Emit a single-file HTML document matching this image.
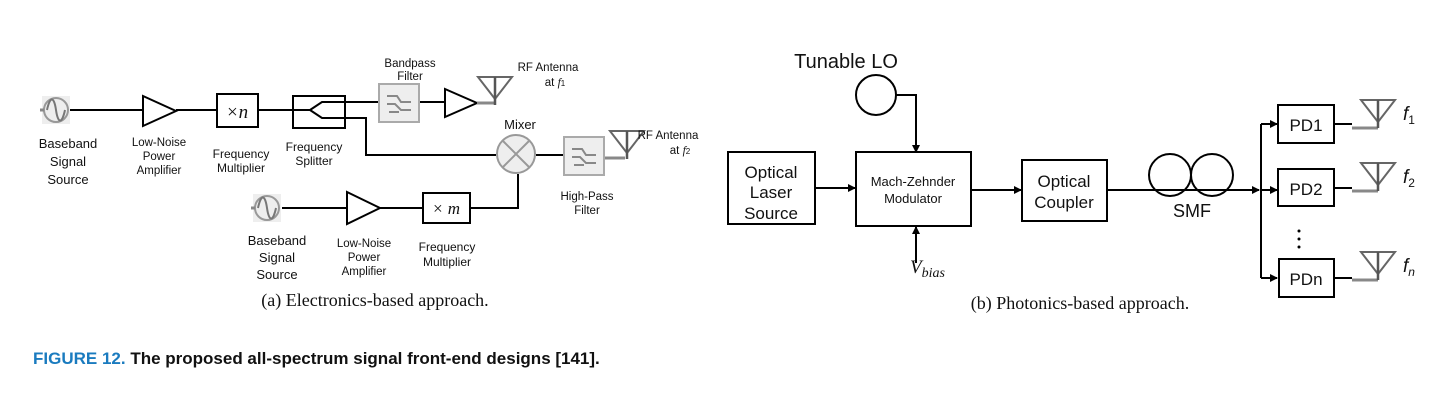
<!DOCTYPE html>
<html><head><meta charset="utf-8"><style>
body{margin:0;background:#fff;width:1456px;height:402px;overflow:hidden}
svg text{font-family:"Liberation Sans",sans-serif;fill:#111}
.s{font-family:"Liberation Serif",serif}
</style></head><body>
<svg width="1456" height="402" viewBox="0 0 1456 402" xmlns="http://www.w3.org/2000/svg">
<defs>
<marker id="a" markerWidth="8" markerHeight="8" refX="7" refY="4" orient="auto" markerUnits="userSpaceOnUse"><path d="M0,0 L8,4 L0,8 z" fill="#000"/></marker>
<g id="src"><rect x="-14" y="-14" width="28" height="28" fill="#eee"/><circle r="12" fill="none" stroke="#999" stroke-width="2"/><path d="M-9,0 C-6,-14 -2,-14 0,0 C2,14 6,14 9,0" fill="none" stroke="#777" stroke-width="2"/><line x1="-16" y1="0" x2="-12" y2="0" stroke="#888" stroke-width="3"/></g>
<g id="flt"><rect x="0" y="0" width="40" height="38" fill="#eee" stroke="#aaa" stroke-width="2"/><path d="M8,12 h10 l4,6 h10 M8,20 h8 l6,6 h10 M10,28 h10" stroke="#888" stroke-width="2" fill="none"/></g>
<g id="ant"><path d="M-17,0 L17,0 L0,22 Z" fill="none" stroke="#666" stroke-width="2"/><line x1="0" y1="0" x2="0" y2="28" stroke="#555" stroke-width="2.5"/></g>
</defs>
<g stroke="#000" stroke-width="2" fill="none">
<line x1="70" y1="110" x2="143" y2="110"/>
<path d="M143,96 L176,111 L143,126 Z"/>
<line x1="176" y1="110" x2="217" y2="110"/>
<rect x="217" y="94" width="41" height="33"/>
<line x1="258" y1="110" x2="310" y2="110"/>
<rect x="293" y="96" width="52" height="32"/>
<path d="M310,110 L322,102 L378,102"/>
<path d="M310,110 L322,118 L366,118 L366,155 L496,155"/>
<line x1="420" y1="102" x2="445" y2="102"/>
<path d="M445,89 L477,103 L445,117 Z"/>
<line x1="477" y1="103" x2="495" y2="103" stroke="#888" stroke-width="3"/>
<line x1="536" y1="155" x2="565" y2="155"/>
<line x1="605" y1="158" x2="625" y2="158" stroke="#888" stroke-width="3"/>
<line x1="282" y1="208" x2="347" y2="208"/>
<path d="M347,192 L380,208 L347,224 Z"/>
<line x1="380" y1="208" x2="423" y2="208"/>
<rect x="423" y="193" width="47" height="30"/>
<path d="M470,208 L518,208 L518,174"/>
</g>
<circle cx="516" cy="154" r="19" fill="#eee" stroke="#999" stroke-width="2"/>
<path d="M503,141 L529,167 M529,141 L503,167" stroke="#999" stroke-width="2"/>
<use href="#src" x="56" y="110"/>
<use href="#src" x="267" y="208"/>
<use href="#flt" x="379" y="84"/>
<use href="#flt" x="564" y="137"/>
<use href="#ant" x="495" y="77"/>
<use href="#ant" x="627" y="131"/>
<text x="237" y="118" font-size="19" text-anchor="middle" class="s" font-style="italic">×n</text>
<text x="446" y="214" font-size="17" text-anchor="middle" class="s" font-style="italic">× m</text>
<g font-size="13" text-anchor="middle">
<text x="68" y="148">Baseband</text><text x="68" y="166">Signal</text><text x="68" y="184">Source</text>
<text x="159" y="146" font-size="11.5">Low-Noise</text><text x="159" y="160" font-size="11.5">Power</text><text x="159" y="174" font-size="11.5">Amplifier</text>
<text x="241" y="158" font-size="12">Frequency</text><text x="241" y="172" font-size="12">Multiplier</text>
<text x="314" y="151" font-size="12">Frequency</text><text x="314" y="165" font-size="12">Splitter</text>
<text x="410" y="67" font-size="11.5">Bandpass</text><text x="410" y="80" font-size="11.5">Filter</text>
<text x="548" y="71" font-size="11.5">RF Antenna</text><text x="555" y="86" font-size="11.5">at <tspan class="s" font-style="italic">f</tspan><tspan font-size="8">1</tspan></text>
<text x="520" y="129" font-size="13">Mixer</text>
<text x="668" y="139" font-size="11.5">RF Antenna</text><text x="680" y="154" font-size="11.5">at <tspan class="s" font-style="italic">f</tspan><tspan font-size="8">2</tspan></text>
<text x="587" y="200" font-size="11.5">High-Pass</text><text x="587" y="214" font-size="11.5">Filter</text>
<text x="277" y="245">Baseband</text><text x="277" y="262">Signal</text><text x="277" y="279">Source</text>
<text x="364" y="247" font-size="11.5">Low-Noise</text><text x="364" y="261" font-size="11.5">Power</text><text x="364" y="275" font-size="11.5">Amplifier</text>
<text x="447" y="251" font-size="12">Frequency</text><text x="447" y="266" font-size="12">Multiplier</text>
</g>
<text x="375" y="306" font-size="18" class="s" text-anchor="middle">(a) Electronics-based approach.</text>

<g stroke="#000" stroke-width="2" fill="none">
<circle cx="876" cy="95" r="20"/>
<path d="M896,95 L916,95 L916,152" marker-end="url(#a)"/>
<rect x="728" y="152" width="87" height="72"/>
<rect x="856" y="152" width="115" height="74"/>
<line x1="815" y1="188" x2="855" y2="188" marker-end="url(#a)"/>
<line x1="916" y1="263" x2="916" y2="227" marker-end="url(#a)"/>
<rect x="1022" y="160" width="85" height="61"/>
<line x1="971" y1="190" x2="1021" y2="190" marker-end="url(#a)"/>
<circle cx="1170" cy="175" r="21"/><circle cx="1212" cy="175" r="21"/>
<line x1="1107" y1="190" x2="1259" y2="190" marker-end="url(#a)"/>
<line x1="1261" y1="124" x2="1261" y2="278"/>
<line x1="1261" y1="124" x2="1277" y2="124" marker-end="url(#a)"/>
<line x1="1261" y1="190" x2="1277" y2="190" marker-end="url(#a)"/>
<line x1="1261" y1="278" x2="1277" y2="278" marker-end="url(#a)"/>
<rect x="1278" y="105" width="56" height="38"/>
<rect x="1278" y="169" width="56" height="37"/>
<rect x="1279" y="259" width="55" height="38"/>
<line x1="1334" y1="124" x2="1352" y2="124"/>
<line x1="1334" y1="188" x2="1352" y2="188"/>
<line x1="1334" y1="278" x2="1352" y2="278"/>
<path d="M1352,128 L1378,128" stroke="#888" stroke-width="3"/>
<path d="M1352,191 L1378,191" stroke="#888" stroke-width="3"/>
<path d="M1352,280 L1378,280" stroke="#888" stroke-width="3"/>
</g>
<use href="#ant" x="1378" y="100"/>
<use href="#ant" x="1378" y="163"/>
<use href="#ant" x="1378" y="252"/>
<g fill="#000"><circle cx="1299" cy="231" r="1.5"/><circle cx="1299" cy="239" r="1.5"/><circle cx="1299" cy="247" r="1.5"/></g>
<g text-anchor="middle">
<text x="846" y="68" font-size="20">Tunable LO</text>
<text x="771" y="178" font-size="17">Optical</text><text x="771" y="198" font-size="17">Laser</text><text x="771" y="219" font-size="17">Source</text>
<text x="913" y="186" font-size="13">Mach-Zehnder</text><text x="913" y="203" font-size="13">Modulator</text>
<text x="1064" y="187" font-size="17">Optical</text><text x="1064" y="208" font-size="17">Coupler</text>
<text x="1192" y="217" font-size="18">SMF</text>
<text x="1306" y="131" font-size="17">PD1</text><text x="1306" y="195" font-size="17">PD2</text><text x="1306" y="285" font-size="17">PDn</text>
</g>
<text x="910" y="273" font-size="19" class="s" font-style="italic">V<tspan font-size="14" dy="4">bias</tspan></text>
<g class="s" font-style="italic" font-size="19">
<text x="1403" y="120">f<tspan font-size="12" font-style="normal" dy="4">1</tspan></text>
<text x="1403" y="183">f<tspan font-size="12" font-style="normal" dy="4">2</tspan></text>
<text x="1403" y="272">f<tspan font-size="12" dy="4">n</tspan></text>
</g>
<text x="1080" y="309" font-size="18" class="s" text-anchor="middle">(b) Photonics-based approach.</text>

<text x="33" y="364" font-size="17" font-weight="bold"><tspan style="fill:#1a7bbf">FIGURE 12.</tspan>  The proposed all-spectrum signal front-end designs [141].</text>
</svg>
</body></html>
